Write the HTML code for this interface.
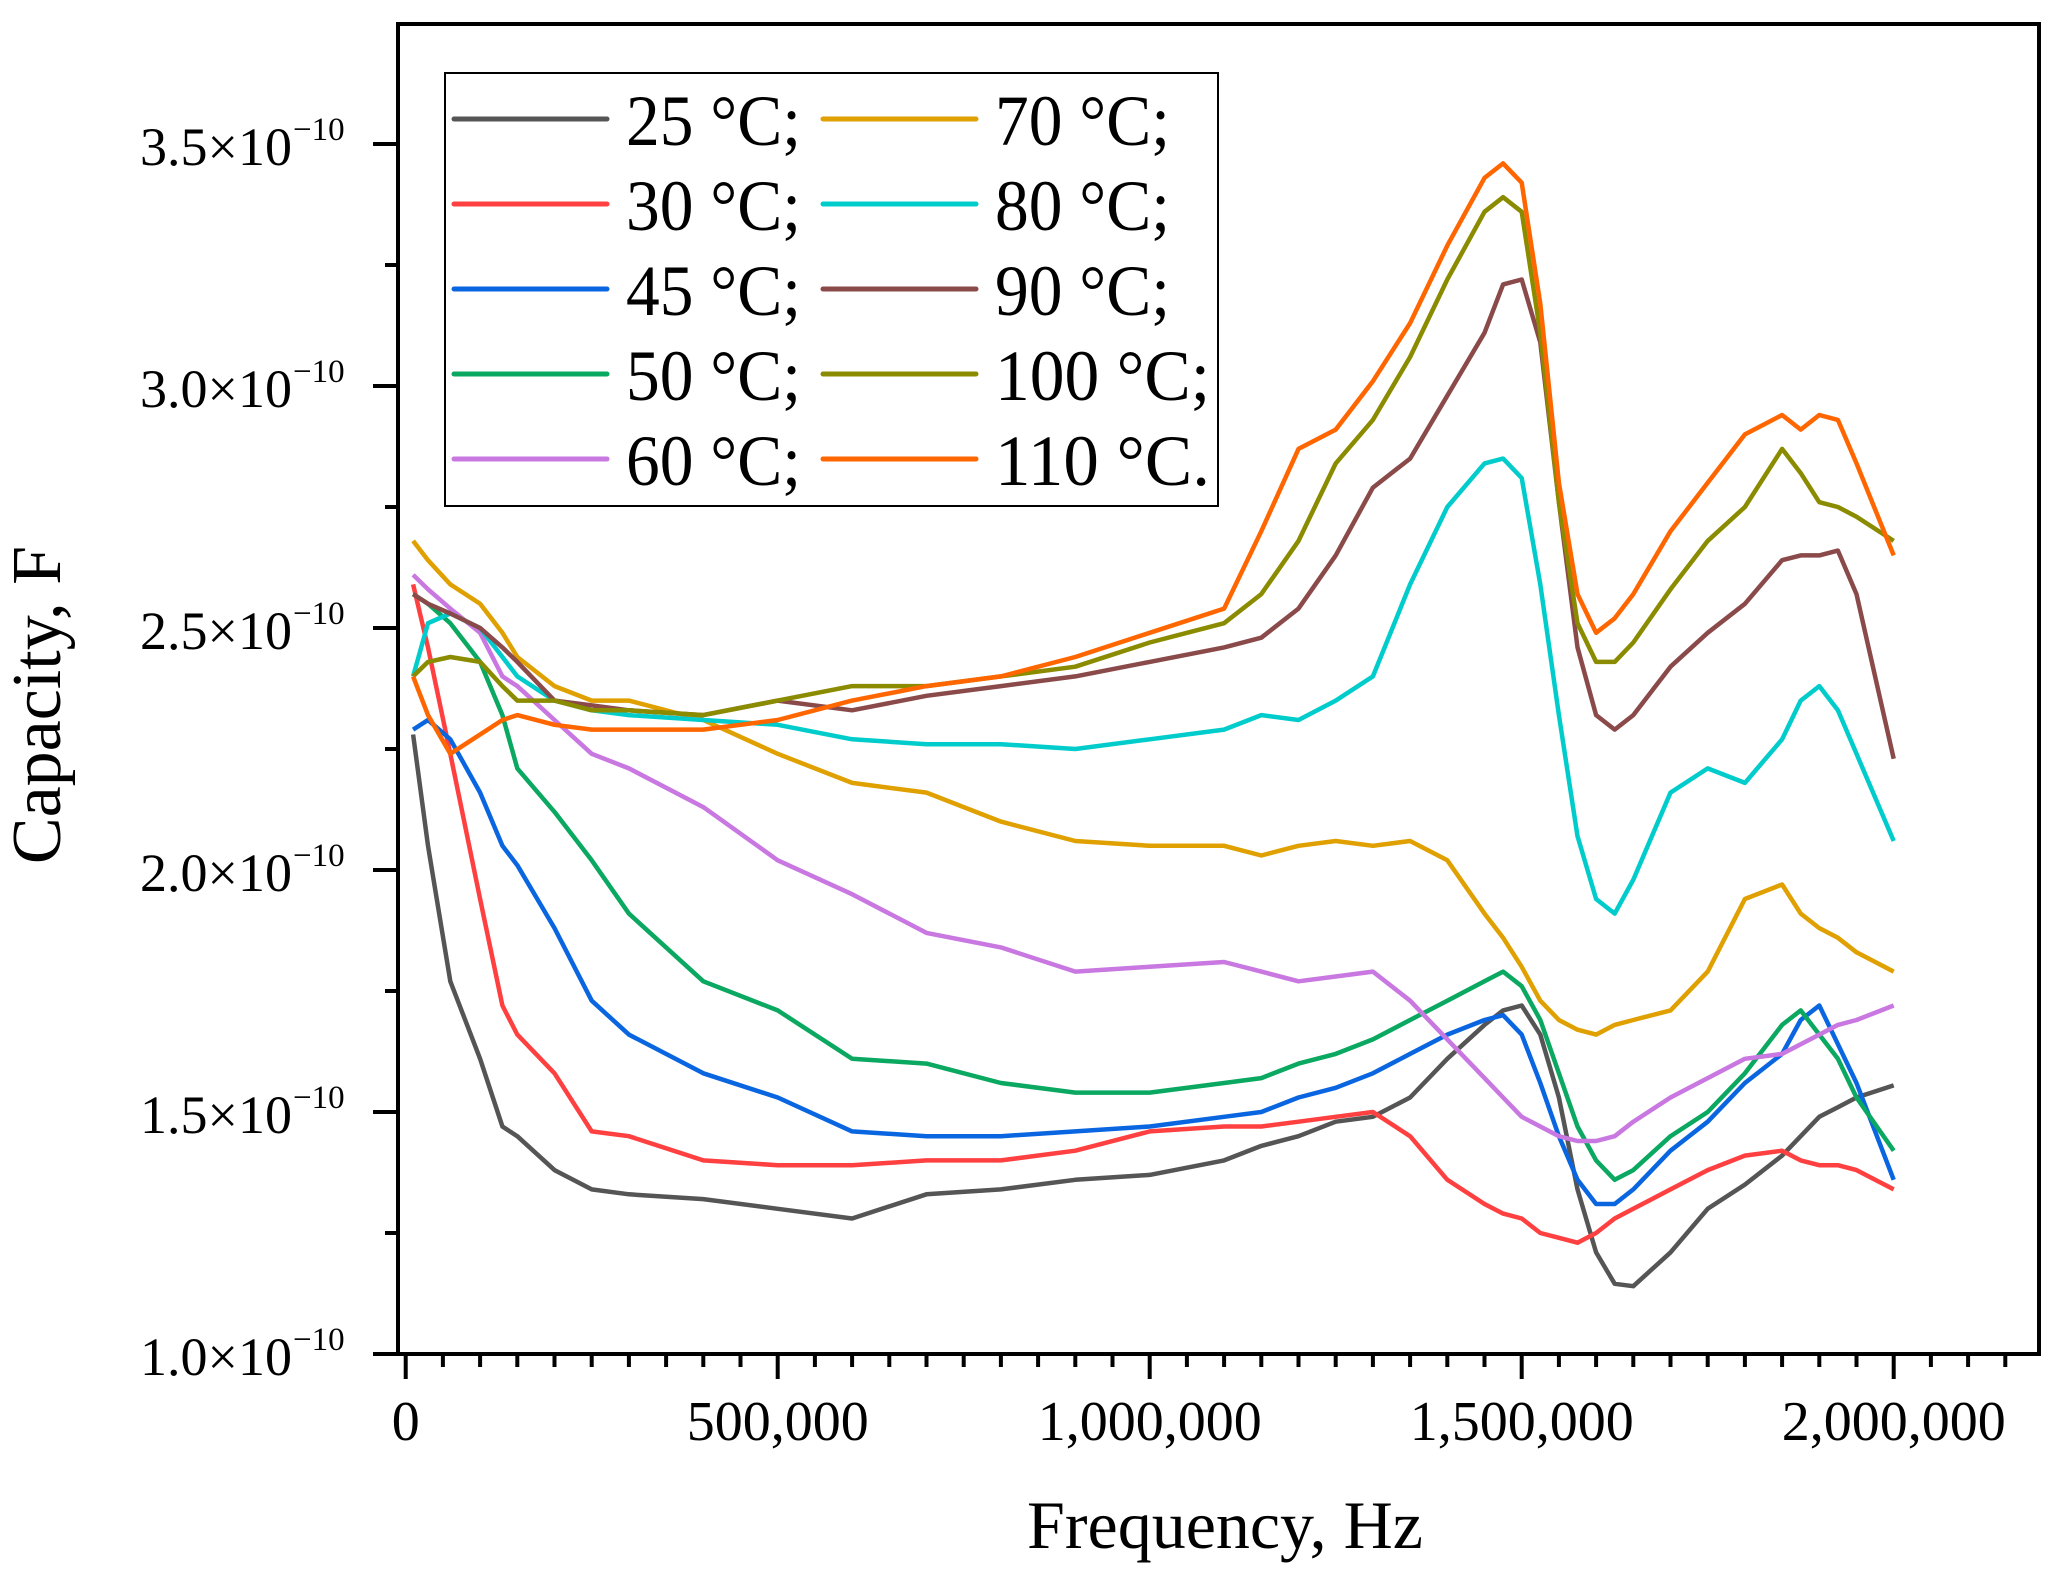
<!DOCTYPE html>
<html><head><meta charset="utf-8"><style>
html,body{margin:0;padding:0;background:#fff;}
svg{display:block;}
text{font-family:"Liberation Serif",serif;fill:#000;}
</style></head><body>
<svg id="chart" width="2065" height="1577" viewBox="0 0 2065 1577" xmlns="http://www.w3.org/2000/svg">
<rect x="0" y="0" width="2065" height="1577" fill="#fff"/>
<g id="series"></g>
<g id="axes"></g>
<g id="legend"></g>
<text x="1225" y="1548" font-size="68" text-anchor="middle">Frequency, Hz</text>
<text x="0" y="0" font-size="70" text-anchor="middle" transform="translate(60,705) rotate(-90)">Capacity, F</text>
</svg>
<script>
const freqKHz = [10,30,60,100,130,150,200,250,300,400,500,600,700,800,900,1000,1100,1150,1200,1250,1300,1350,1400,1450,1475,1500,1525,1550,1575,1600,1625,1650,1700,1750,1800,1850,1875,1900,1925,1950,2000];
const c25 = [2.28,2.05,1.77,1.61,1.47,1.45,1.38,1.34,1.33,1.32,1.30,1.28,1.33,1.34,1.36,1.37,1.40,1.43,1.45,1.48,1.49,1.53,1.61,1.68,1.71,1.72,1.66,1.53,1.34,1.21,1.145,1.14,1.21,1.30,1.35,1.41,1.45,1.49,1.51,1.53,1.555];
const c30 = [2.59,2.46,2.24,1.94,1.72,1.66,1.58,1.46,1.45,1.40,1.39,1.39,1.40,1.40,1.42,1.46,1.47,1.47,1.48,1.49,1.50,1.45,1.36,1.31,1.29,1.28,1.25,1.24,1.23,1.25,1.28,1.30,1.34,1.38,1.41,1.42,1.40,1.39,1.39,1.38,1.34];
const c45 = [2.29,2.31,2.27,2.16,2.05,2.01,1.88,1.73,1.66,1.58,1.53,1.46,1.45,1.45,1.46,1.47,1.49,1.50,1.53,1.55,1.58,1.62,1.66,1.69,1.70,1.66,1.56,1.45,1.36,1.31,1.31,1.34,1.42,1.48,1.56,1.62,1.69,1.72,1.64,1.56,1.36];
const c50 = [2.57,2.55,2.51,2.43,2.32,2.21,2.12,2.02,1.91,1.77,1.71,1.61,1.60,1.56,1.54,1.54,1.56,1.57,1.60,1.62,1.65,1.69,1.73,1.77,1.79,1.76,1.69,1.58,1.47,1.40,1.36,1.38,1.45,1.50,1.58,1.68,1.71,1.66,1.61,1.53,1.42];
const c60 = [2.61,2.58,2.54,2.49,2.40,2.38,2.31,2.24,2.21,2.13,2.02,1.95,1.87,1.84,1.79,1.80,1.81,1.79,1.77,1.78,1.79,1.73,1.65,1.57,1.53,1.49,1.47,1.45,1.44,1.44,1.45,1.48,1.53,1.57,1.61,1.62,1.64,1.66,1.68,1.69,1.72];
const c70 = [2.68,2.64,2.59,2.55,2.49,2.44,2.38,2.35,2.35,2.31,2.24,2.18,2.16,2.10,2.06,2.05,2.05,2.03,2.05,2.06,2.05,2.06,2.02,1.91,1.86,1.80,1.73,1.69,1.67,1.66,1.68,1.69,1.71,1.79,1.94,1.97,1.91,1.88,1.86,1.83,1.79];
const c80 = [2.40,2.51,2.53,2.50,2.44,2.40,2.35,2.33,2.32,2.31,2.30,2.27,2.26,2.26,2.25,2.27,2.29,2.32,2.31,2.35,2.40,2.59,2.75,2.84,2.85,2.81,2.59,2.32,2.07,1.94,1.91,1.98,2.16,2.21,2.18,2.27,2.35,2.38,2.33,2.24,2.06];
const c90 = [2.57,2.55,2.53,2.50,2.46,2.43,2.35,2.34,2.33,2.32,2.35,2.33,2.36,2.38,2.40,2.43,2.46,2.48,2.54,2.65,2.79,2.85,2.98,3.11,3.21,3.22,3.09,2.76,2.46,2.32,2.29,2.32,2.42,2.49,2.55,2.64,2.65,2.65,2.66,2.57,2.23];
const c100 = [2.40,2.43,2.44,2.43,2.38,2.35,2.35,2.33,2.33,2.32,2.35,2.38,2.38,2.40,2.42,2.47,2.51,2.57,2.68,2.84,2.93,3.06,3.22,3.36,3.39,3.36,3.11,2.76,2.51,2.43,2.43,2.47,2.58,2.68,2.75,2.87,2.82,2.76,2.75,2.73,2.68];
const c110 = [2.40,2.32,2.24,2.28,2.31,2.32,2.30,2.29,2.29,2.29,2.31,2.35,2.38,2.40,2.44,2.49,2.54,2.70,2.87,2.91,3.01,3.13,3.29,3.43,3.46,3.42,3.17,2.80,2.57,2.49,2.52,2.57,2.70,2.80,2.90,2.94,2.91,2.94,2.93,2.84,2.65];
const seriesLabels = ["25 °C;","30 °C;","45 °C;","50 °C;","60 °C;","70 °C;","80 °C;","90 °C;","100 °C;","110 °C."];
const xTickLabels = ["0","500,000","1,000,000","1,500,000","2,000,000"];
const yTickLabels = ["1.0","1.5","2.0","2.5","3.0","3.5"];

const seriesValues = [c25,c30,c45,c50,c60,c70,c80,c90,c100,c110];
const colors = ["#555555","#ff4040","#0a66e0","#0aa860","#c878e0","#dfa000","#00cccc","#8b4a4a","#8b8b00","#ff6600"];
const NS = "http://www.w3.org/2000/svg";
function xS(hz){ return 405.7 + hz*(372/500000); }
function yS(v){ return 1354 - (v-1.0)*484; }
function mk(tag, attrs, parent){ const e=document.createElementNS(NS,tag); for(const k in attrs) e.setAttribute(k,attrs[k]); parent.appendChild(e); return e; }

const sg = document.getElementById('series');
seriesValues.forEach((vals,i)=>{
  const d = vals.map((v,j)=>(j?'L':'M')+xS(freqKHz[j]*1000).toFixed(1)+','+yS(v).toFixed(1)).join(' ');
  const p = mk('path',{d:d,fill:'none',stroke:colors[i],'stroke-width':4.5,'stroke-linejoin':'round'},sg);
  
  
});

const ag = document.getElementById('axes');
const fr = mk('rect',{x:398,y:24,width:1641,height:1330,fill:'none',stroke:'#000','stroke-width':4},ag);


for(let k=0;k<=43;k++){
  const hz=k*50000; const x=xS(hz);
  if(x>2035) break;
  const major = (k%10===0);
  const t = mk('line',{x1:x,y1:1354,x2:x,y2:1354+(major?25:13),stroke:'#000','stroke-width':4},ag);
  
  
}
xTickLabels.forEach((lab,i)=>{
  const t = mk('text',{x:xS(i*500000),y:1440,'font-size':56,'text-anchor':'middle'},ag);
  t.textContent = lab;
  
  
});
for(let k=0;k<=10;k++){
  const v=1.0+k*0.25; const y=yS(v);
  if(y<30) break;
  const major=(k%2===0);
  const t = mk('line',{x1:398,y1:y,x2:398-(major?25:13),y2:y,stroke:'#000','stroke-width':4},ag);
  
  
}
yTickLabels.forEach((lab)=>{
  const y=yS(parseFloat(lab));
  const t = mk('text',{x:292,y:y+21,'font-size':54,'text-anchor':'end'},ag);
  t.textContent = lab+'×10';
  
  
  const s = mk('text',{x:293,y:y-4,'font-size':33,'text-anchor':'start'},ag);
  s.textContent = '−10';
  
  
});

const lg = document.getElementById('legend');
const lb = mk('rect',{x:445,y:73,width:773,height:433,fill:'#fff',stroke:'#000','stroke-width':2},lg);


seriesLabels.forEach((lab,i)=>{
  const col = i<5?0:1; const row=i%5;
  const y = 119 + row*85;
  const x0 = col? 823:454;
  const l = mk('line',{x1:x0,y1:y,x2:x0+153,y2:y,stroke:colors[i],'stroke-width':5,'stroke-linecap':'round'},lg);
  
  
  const w = lab.length>6 ? 215 : 175;
  const t = mk('text',{x:col?995:626,y:y+26,'font-size':72,textLength:w,lengthAdjust:'spacingAndGlyphs'},lg);
  t.textContent = lab;
  
  
});
</script>
</body></html>
